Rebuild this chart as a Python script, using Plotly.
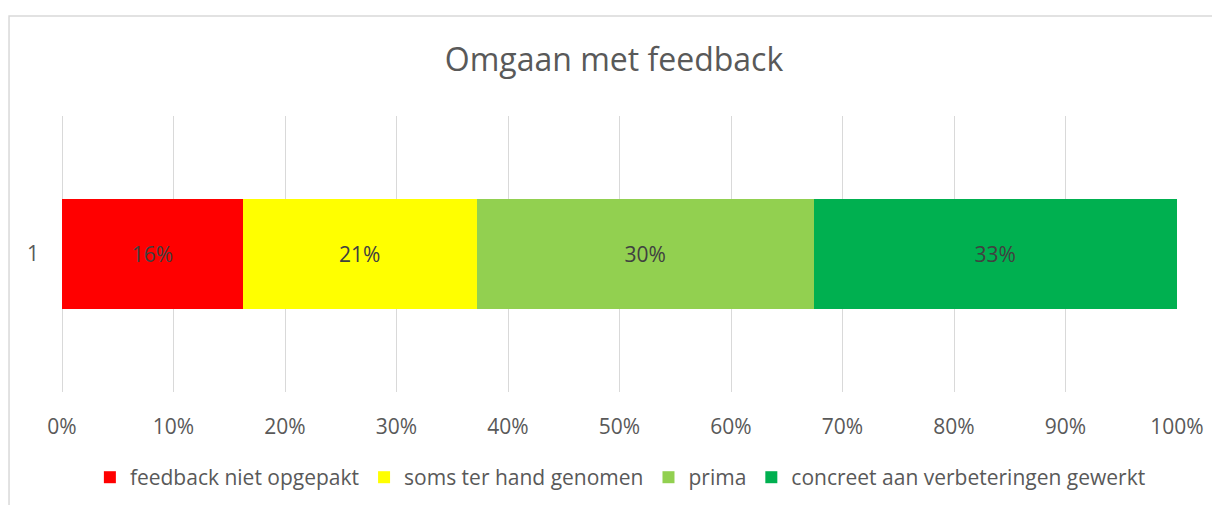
import plotly.graph_objects as go

categories = ["1"]
series_names = ["feedback niet opgepakt", "soms ter hand genomen", "prima", "concreet aan verbeteringen gewerkt"]
series_values = [16.2, 21.0, 30.2, 32.6]
series_labels = ["16%", "21%", "30%", "33%"]
colors = ["#FF0000", "#FFFF00", "#92D050", "#00B050"]
tick_vals = [0, 10, 20, 30, 40, 50, 60, 70, 80, 90, 100]
tick_text = ["0%", "10%", "20%", "30%", "40%", "50%", "60%", "70%", "80%", "90%", "100%"]

FONT = "Open Sans"
TXT = "#595959"

fig = go.Figure()
for name, val, lab, col in zip(series_names, series_values, series_labels, colors):
    fig.add_trace(go.Bar(
        y=categories, x=[val], name=name, orientation="h",
        marker=dict(color=col, line=dict(width=0)),
        text=[lab], textposition="inside", insidetextanchor="middle",
        textfont=dict(family=FONT, size=21, color="#404040"),
        width=0.4, hoverinfo="skip",
    ))

fig.update_layout(
    barmode="stack",
    width=1212, height=497,
    margin=dict(l=54, r=43, t=108, b=113, autoexpand=False),
    paper_bgcolor="white", plot_bgcolor="white",
    title=dict(text="Omgaan met feedback", x=0.5, xanchor="center", y=0.895, yanchor="middle",
               font=dict(family=FONT, size=32, color=TXT)),
    showlegend=True,
    legend=dict(orientation="h", x=0.025, xanchor="left", y=-0.31, yanchor="middle",
                font=dict(family=FONT, size=21, color=TXT), traceorder="normal",
                itemwidth=30),
    xaxis=dict(range=[0, 100], tickvals=tick_vals, ticktext=tick_text,
               showgrid=True, gridcolor="#d9d9d9", gridwidth=1,
               zeroline=True, zerolinecolor="#d9d9d9", zerolinewidth=1,
               showline=False, ticks="", ticklabelstandoff=20,
               tickfont=dict(family=FONT, size=21, color=TXT)),
    yaxis=dict(type="category", showgrid=False, zeroline=False, showline=False,
               ticks="", ticklabelstandoff=22,
               tickfont=dict(family=FONT, size=21, color=TXT)),
    shapes=[dict(type="rect", xref="paper", yref="paper",
                 x0=-0.0475, x1=1.05, y0=-0.5, y1=1.362,
                 line=dict(color="#d9d9d9", width=1.5), fillcolor="rgba(0,0,0,0)", layer="below")],
)

fig.write_html("out.html")
